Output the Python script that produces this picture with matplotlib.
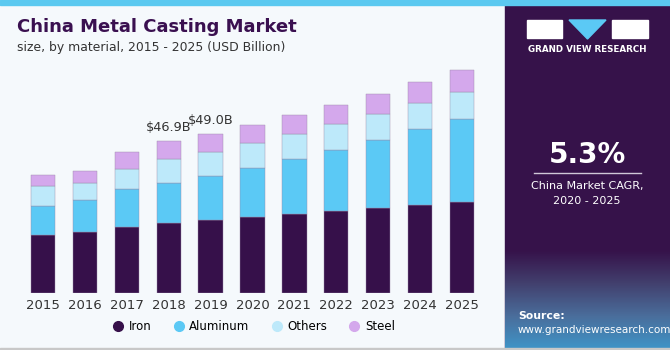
import matplotlib.pyplot as plt
import matplotlib.patches as mpatches
from matplotlib.colors import LinearSegmentedColormap
import numpy as np

years = ['2015', '2016', '2017', '2018', '2019', '2020', '2021', '2022', '2023', '2024', '2025']
iron = [17.8, 18.9, 20.2, 21.5, 22.5, 23.4, 24.2, 25.3, 26.2, 27.2, 27.9]
aluminum = [9.1, 9.7, 11.7, 12.4, 13.6, 15.2, 17.0, 18.9, 21.0, 23.3, 25.8]
others = [6.1, 5.4, 6.3, 7.3, 7.5, 7.5, 7.7, 7.8, 7.9, 8.0, 8.1]
steel = [3.4, 3.7, 5.1, 5.7, 5.4, 5.6, 5.9, 6.0, 6.3, 6.4, 6.8]
series_names = ['Iron', 'Aluminum', 'Others', 'Steel']
colors = ['#36104a', '#5bc9f5', '#bde9fa', '#d4a8ec']
labels = {3: '$46.9B', 4: '$49.0B'}

W, H = 670, 350
fig = plt.figure(figsize=(6.7, 3.5), dpi=100)
fig.patch.set_facecolor('#f5f9fc')

# right panel
fig.patches.append(mpatches.Rectangle((505 / W, 0), 165 / W, 1, transform=fig.transFigure,
                                      color='#36124a', zorder=0))
# lower gradient of right panel
gax = fig.add_axes([505 / W, 0, 165 / W, 100 / H], zorder=1)
grad = np.linspace(0, 1, 100).reshape(-1, 1)
cm = LinearSegmentedColormap.from_list('g', ['#36124a', '#42406e', '#4a6e9c', '#3f95c8'])
gax.imshow(grad, aspect='auto', cmap=cm, extent=[0, 1, 0, 1], origin='upper')
gax.axis('off')
# top strip and bottom line
fig.patches.append(mpatches.Rectangle((0, 1 - 5 / H), 1, 5 / H, transform=fig.transFigure,
                                      color='#5bc9f0', zorder=3))
fig.patches.append(mpatches.Rectangle((0, 0), 1, 2 / H, transform=fig.transFigure,
                                      color='#c8c8c8', zorder=3))

# logo
fig.patches.append(mpatches.Rectangle((527 / W, 1 - 38 / H), 35 / W, 18 / H,
                                      transform=fig.transFigure, color='white', zorder=3))
fig.patches.append(mpatches.Rectangle((612 / W, 1 - 38 / H), 36 / W, 18 / H,
                                      transform=fig.transFigure, color='white', zorder=3))
fig.patches.append(mpatches.Polygon([(569 / W, 1 - 20 / H), (606 / W, 1 - 20 / H), (587.5 / W, 1 - 39 / H)],
                                    transform=fig.transFigure, color='#5bc9f5', zorder=3))
fig.text(587 / W, 1 - 50 / H, 'GRAND VIEW RESEARCH', color='white', fontsize=6.3,
         fontweight='bold', ha='center', va='center')

fig.text(587 / W, 1 - 155 / H, '5.3%', color='white', fontsize=20, fontweight='bold',
         ha='center', va='center')
fig.add_artist(plt.Line2D([534 / W, 641 / W], [1 - 173 / H, 1 - 173 / H], color='#d0c8d8', lw=1))
fig.text(587 / W, 1 - 186 / H, 'China Market CAGR,', color='white', fontsize=8,
         ha='center', va='center')
fig.text(587 / W, 1 - 201 / H, '2020 - 2025', color='white', fontsize=8,
         ha='center', va='center')
fig.text(518 / W, 1 - 316 / H, 'Source:', color='white', fontsize=7.8, fontweight='bold',
         ha='left', va='center', zorder=5)
fig.text(518 / W, 1 - 330 / H, 'www.grandviewresearch.com', color='white', fontsize=7.5,
         ha='left', va='center', zorder=5)

# title
fig.text(17 / W, 1 - 27 / H, 'China Metal Casting Market', color='#3a1050', fontsize=13,
         fontweight='heavy', ha='left', va='center')
fig.text(17 / W, 1 - 48 / H, 'size, by material, 2015 - 2025 (USD Billion)', color='#333333',
         fontsize=8.9, ha='left', va='center')

# chart
ax = fig.add_axes([22 / W, 57 / H, 461 / W, 233 / H])
ax.set_facecolor('none')
x = np.arange(len(years))
bottom = np.zeros(len(years))
for vals, name, c in zip([iron, aluminum, others, steel], series_names, colors):
    ax.bar(x, vals, 0.58, bottom=bottom, color=c, label=name, edgecolor='#9a8aa8', linewidth=0.3)
    bottom += np.array(vals)
for i, t in labels.items():
    ax.text(x[i], bottom[i] + 2.2, t, ha='center', va='bottom', fontsize=9.3, color='#333333')
ax.set_xlim(-0.5, 10.5)
ax.set_ylim(0, 71.8)
ax.set_xticks(x)
ax.set_xticklabels(years, fontsize=9.5, color='#333333')
ax.tick_params(length=0, pad=4)
ax.set_yticks([])
for s in ax.spines.values():
    s.set_visible(False)

handles = [plt.Line2D([], [], marker='o', ls='', color=c, markersize=7) for c in colors]
fig.legend(handles, series_names, loc='center', bbox_to_anchor=(253 / W, 1 - 327 / H), ncol=4,
           frameon=False, fontsize=8.5, handletextpad=0.3, columnspacing=1.7, handlelength=1.2)

fig.savefig('out.png', dpi=100, facecolor=fig.get_facecolor())
